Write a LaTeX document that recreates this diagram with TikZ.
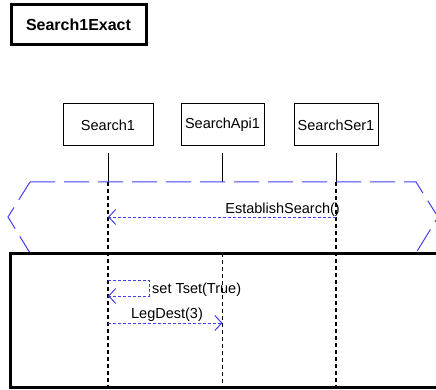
\documentclass[tikz,border=0pt]{standalone}
\usepackage{fontspec}
\setmainfont{Liberation Sans}
\usetikzlibrary{arrows.meta, positioning}

\definecolor{seqblue}{RGB}{64,64,240}

\begin{document}
\begin{tikzpicture}[x=1pt, y=-1pt, font=\fontsize{14.5}{17}\selectfont,
    head/.style={draw, line width=1pt, minimum height=42pt, inner sep=0pt},
    life/.style={line width=1.3pt, dash pattern=on 4pt off 3pt},
    msg/.style={seqblue, line width=1pt, dash pattern=on 3pt off 2pt, -{Straight Barb[length=7pt, width=15pt]}}]

    % Page size
    \useasboundingbox (0,0) rectangle (436,390);
    \clip (0,0) rectangle (436,390);

    % Title of the diagram
    \node[draw, line width=3pt, minimum width=135pt, minimum height=40pt, font=\fontsize{16}{18}\selectfont\bfseries] (title) at (78.5,25) {Search1Exact};

    % Object heads and solid start of their lifelines
    \foreach \name/\x/\w/\label in {s1/108/90/Search1, api/222.5/83/SearchApi1, ser/336/84/SearchSer1} {
        \node[head, minimum width=\w pt] (\name) at (\x,125) {\label}; % Heads
        \coordinate (\name-top) at ([yshift=-7pt]\name.south);
        \coordinate (\name-frag) at (\name.south |- 0,182);
        \coordinate (\name-box) at (\name.south |- 0,253);
        \coordinate (\name-end) at (\name.south |- 0,387);
        \draw[line width=1pt] (\name-top) -- (\name-frag);
    }

    % Dashed lifelines
    \foreach \name in {s1, ser} {
        \draw[life] (\name-frag) -- (\name-end);
    }
    \draw[life] (api-box) -- (api-end);

    % Blue dashed fragment
    \draw[seqblue, line width=1pt, dash pattern=on 25pt off 9pt] (30,182) -- (416,182) -- (438,217) -- (416,253) -- (30,253) -- (8,217) -- cycle;

    % Lower black box
    \draw[line width=3pt] (10,253) rectangle (460,387);

    % Messages
    \coordinate (m1a) at (ser.south |- 0,217);
    \coordinate (m1b) at (s1.south |- 0,217);
    \draw[msg] (m1a) -- (m1b);
    \node[anchor=base east, inner sep=0pt] (m1lbl) at (340,213) {EstablishSearch()};

    \coordinate (m2a) at (s1.south |- 0,280);
    \coordinate (m2b) at (s1.south |- 0,296);
    \draw[msg] (m2a) -- (149,280) -- (149,296) -- (m2b);
    \node[anchor=base west, inner sep=0pt] (m2lbl) at (152,293) {set Tset(True)};

    \coordinate (m3a) at (s1.south |- 0,323);
    \coordinate (m3b) at (api.south |- 0,323);
    \draw[msg] (m3a) -- (m3b);
    \node[anchor=base, inner sep=0pt] (m3lbl) at (167,318) {LegDest(3)};

\end{tikzpicture}
\end{document}
